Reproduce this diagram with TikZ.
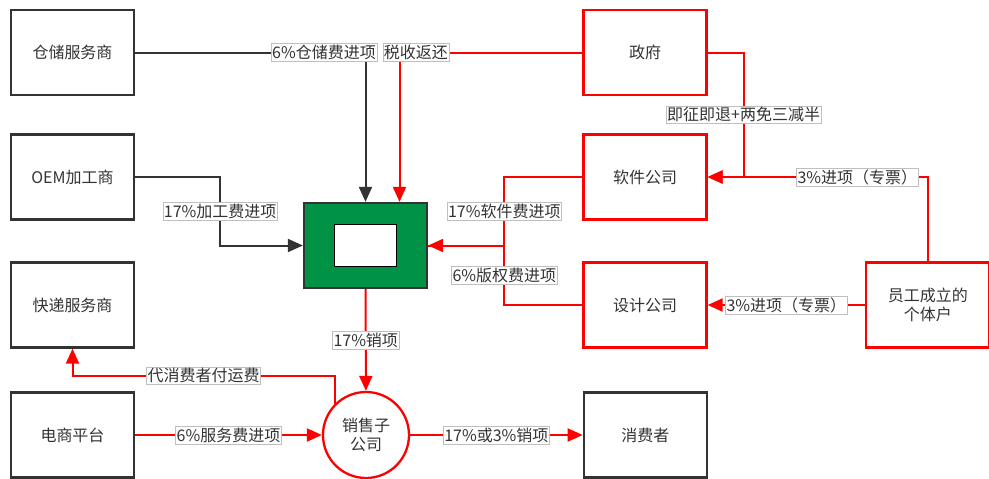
\documentclass[tikz,border=0pt]{standalone}
\usepackage{fontspec}
\setmainfont{Noto Sans CJK SC}
\usetikzlibrary{positioning,arrows.meta}
\definecolor{inkgray}{HTML}{333333}
\definecolor{taxred}{HTML}{FF0000}
\definecolor{tagframe}{HTML}{BFBFBF}
\definecolor{subgreen}{RGB}{0,146,69}
\tikzset{node distance=2cm,
  >={Triangle[length=15pt,width=13pt]},
  party/.style={draw=inkgray, line width=2.3pt, minimum width=123pt, minimum height=85pt,
    text=inkgray, align=center, font=\fontsize{16}{19}\selectfont},
  redparty/.style={party, draw=taxred},
  flow/.style={draw=inkgray, line width=2pt},
  redflow/.style={draw=taxred, line width=2pt},
  tag/.style={draw=tagframe, line width=0.6pt, fill=white, text=inkgray,
    inner xsep=1pt, inner ysep=1.5pt, font=\fontsize{16}{19}\selectfont}}

\begin{document}
\begin{tikzpicture}[x=1pt,y=-1pt]
  \useasboundingbox (0,0) rectangle (989,479);

  % left column
  \node[party] (wh)   at (72.5,52.5) {仓储服务商};
  \node[party] (oem)  at (72.5,177)  {OEM加工商};
  \node[party] (exp)  at (72.5,305)  {快递服务商};
  \node[party] (mall) at (72.5,435)  {电商平台};

  % middle
  \node[draw=inkgray, fill=subgreen, line width=2.3pt, minimum width=123pt, minimum height=85pt] (hq) at (365.5,245.5) {};
  \node[draw=black, fill=white, line width=1.5pt, minimum width=62pt, minimum height=42pt] (core) at (hq) {};
  \node[draw=taxred, circle, line width=2.3pt, minimum size=86pt, text=inkgray, align=center,
    font=\fontsize{16}{19}\selectfont] (sales) at (366,435) {销售子\\公司};

  % right side
  \node[redparty] (gov)    at (645,52.5) {政府};
  \node[redparty] (soft)   at (645,177)  {软件公司};
  \node[redparty] (design) at (645,305)  {设计公司};
  \node[redparty] (staff) [right=157.5pt of design] {员工成立的\\个体户};
  \node[party] (buyer) [right=172.5pt of sales] {消费者};

  \draw[flow,->] (wh) -| node[tag,pos=0.41] {6\%仓储费进项} (hq.north);
  \draw[redflow,->] (gov) -| node[tag,pos=0.455] {税收返还} ([xshift=34pt]hq.north);
  \draw[flow,->] (oem.east) -- ++(85,0) |- node[tag,pos=0.25] {17\%加工费进项} (hq.west);
  \draw[redflow,->] (soft.west) -- ++(-78,0) |- node[tag,pos=0.25] {17\%软件费进项} (hq.east);
  \draw[redflow] (design.west) -- ++(-78,0) |- node[tag,pos=0.25] {6\%版权费进项} (hq.east);
  \draw[redflow,->] (gov.east) -- ++(36,0) |- node[tag,pos=0.25] {即征即退+两免三减半} (soft.east);
  \draw[redflow,->] (staff.north) |- node[tag,pos=0.66] {3\%进项（专票）} (soft.east);
  \draw[redflow,->] (staff) -- node[tag] {3\%进项（专票）} (design);
  \draw[redflow,->] (hq) -- node[tag] {17\%销项} (sales);
  \draw[redflow,->] (sales.135) -- ++(0,-28) -| node[tag,pos=0.25] {代消费者付运费} (exp.south);
  \draw[redflow,->] (mall) -- node[tag] {6\%服务费进项} (sales);
  \draw[redflow,->] (sales) -- node[tag] {17\%或3\%销项} (buyer);
\end{tikzpicture}
\end{document}
